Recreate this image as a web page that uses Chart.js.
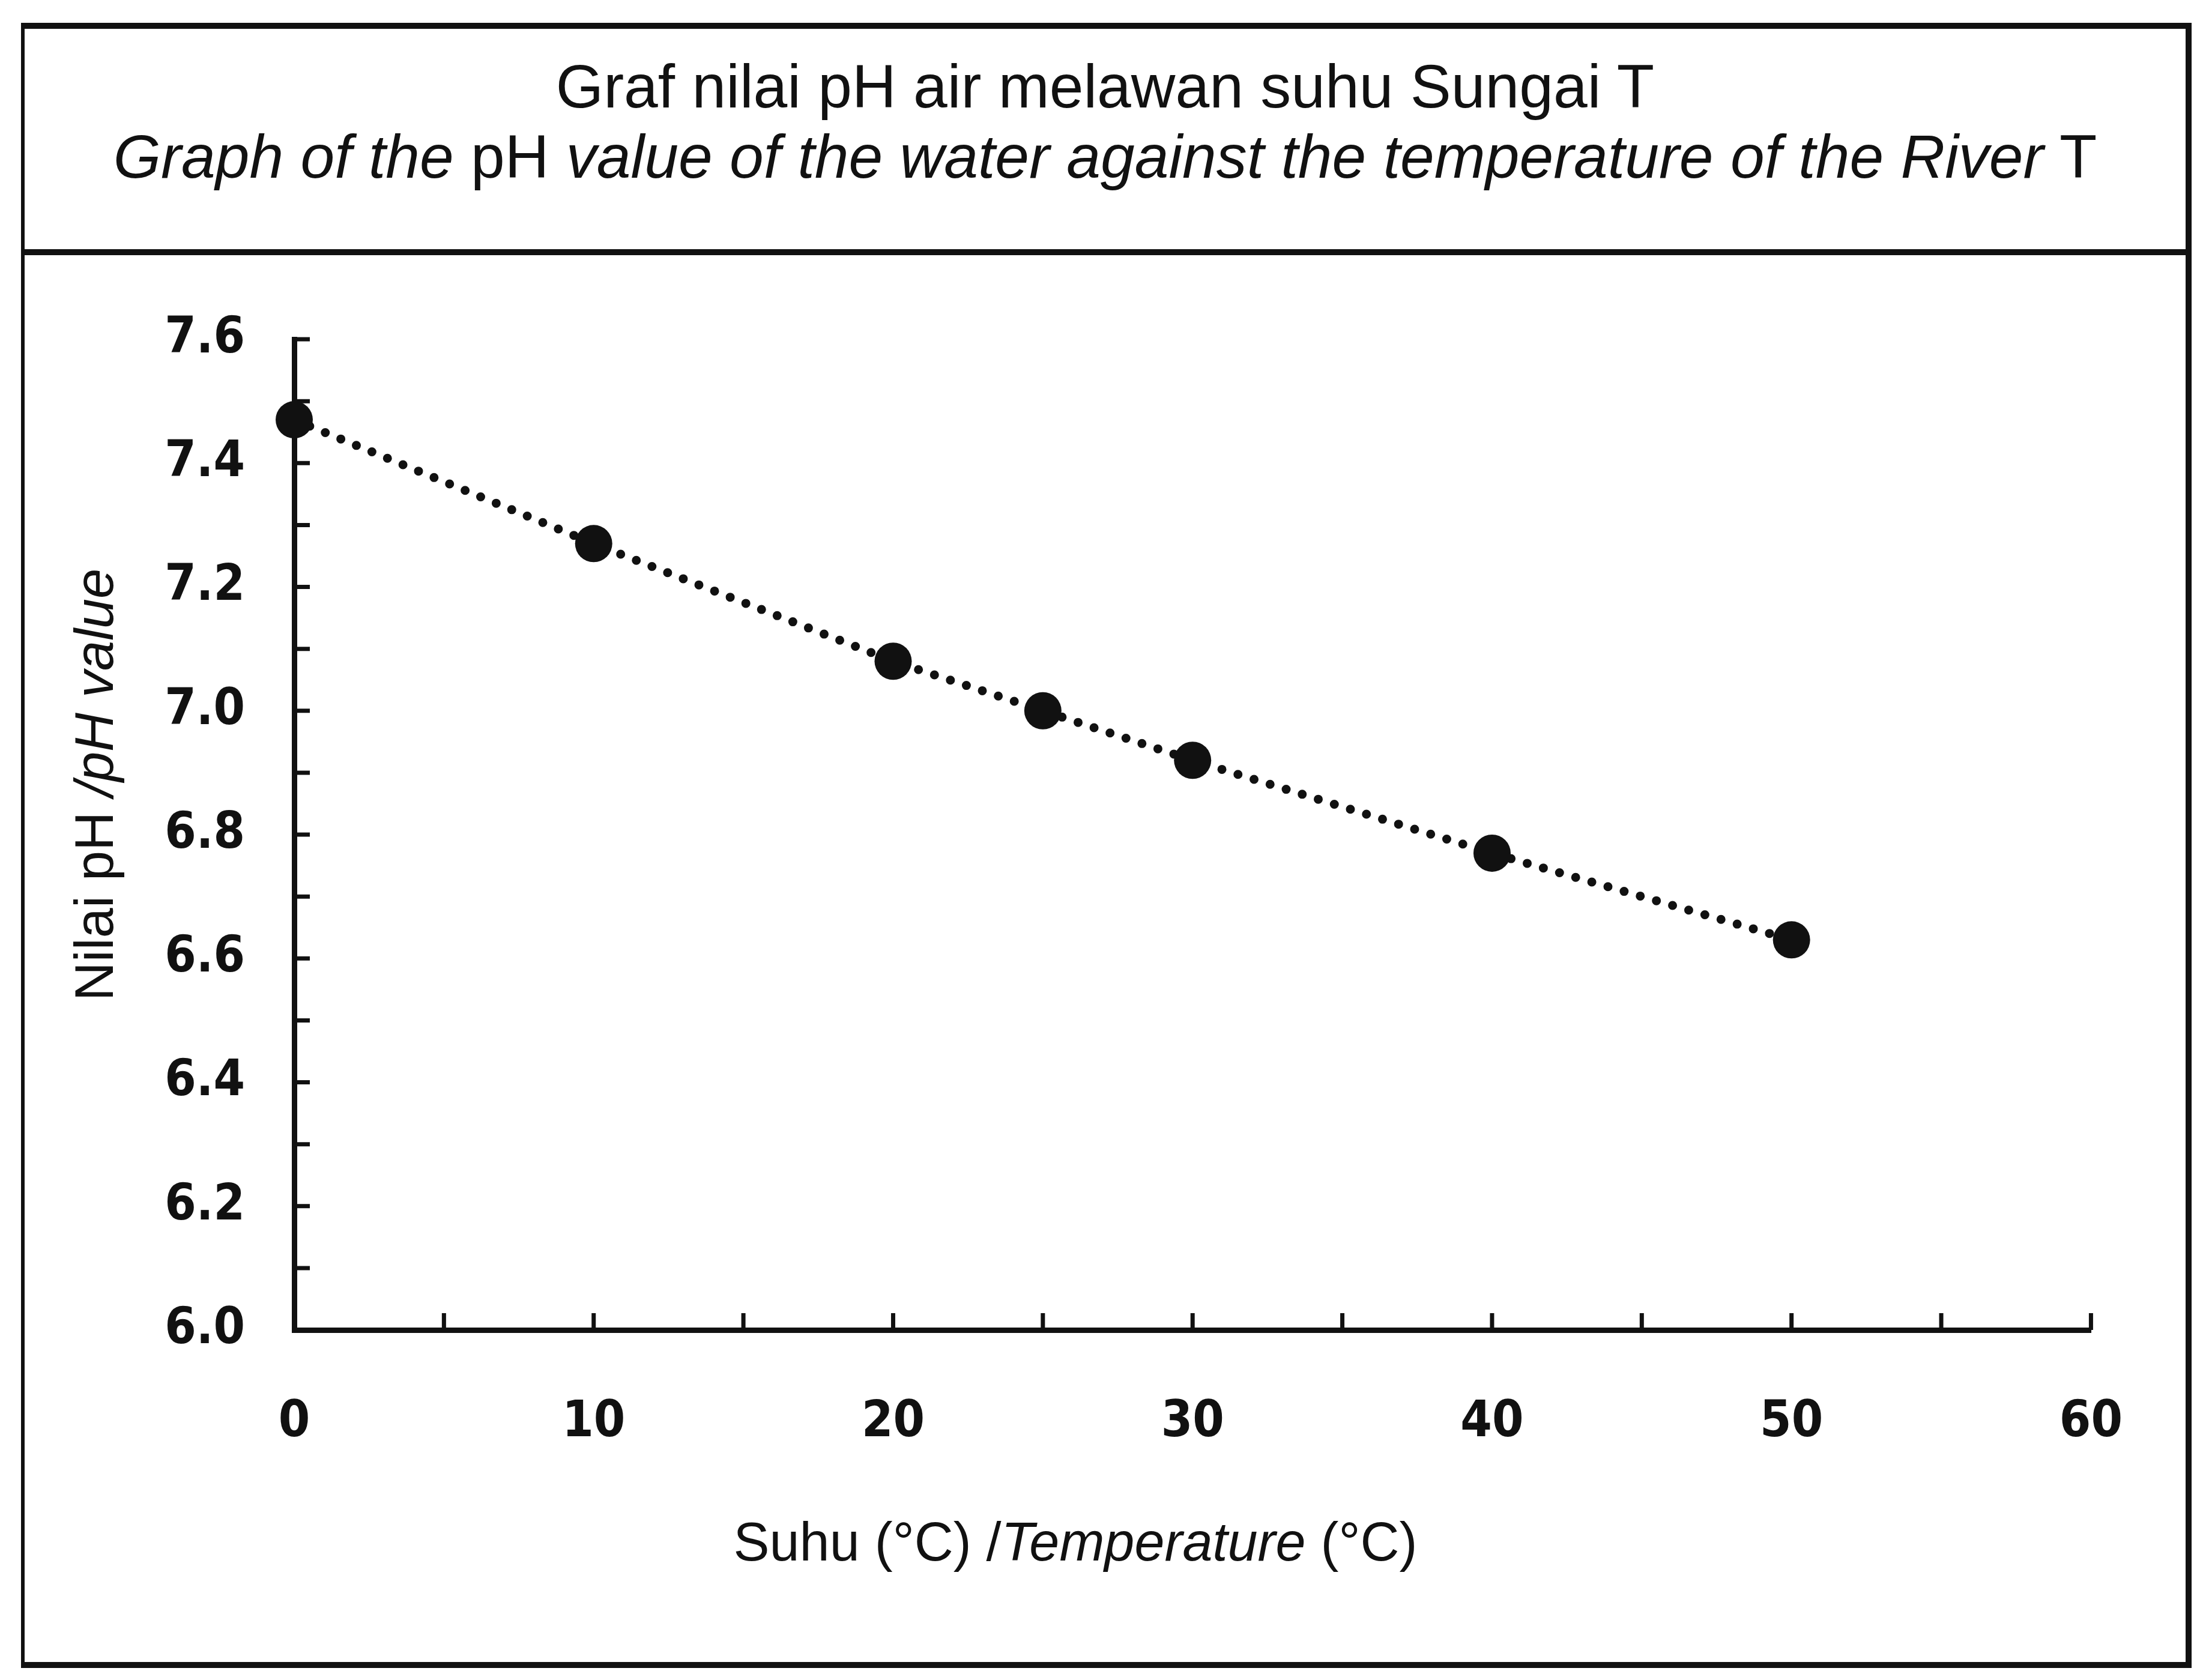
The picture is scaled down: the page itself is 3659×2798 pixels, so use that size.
<!DOCTYPE html>
<html>
<head>
<meta charset="utf-8">
<script src="https://cdn.jsdelivr.net/npm/chart.js@4.4.0/dist/chart.umd.min.js"></script>
<style>
html, body { margin: 0; padding: 0; background: #fff; }
body { width: 3659px; height: 2798px; position: relative; overflow: hidden; }
#box { position: absolute; left: 35px; top: 38px; width: 3615px; height: 2740px;
       border: 10px solid #111; border-left-width: 6px; box-sizing: border-box; }
#head { position: absolute; left: 0; top: 0; right: 0; height: 377px;
        border-bottom: 10px solid #111; box-sizing: border-box; }
.tl { position: absolute; left: 0; right: 0; text-align: center; color: #111;
      font-family: "Liberation Sans", Arial, sans-serif; font-size: 102px; line-height: 112px; white-space: nowrap; }
#t1 { top: 40px; }
#t2 { top: 157px; }
#chart { position: absolute; left: 40px; top: 430px; }
</style>
</head>
<body>
<div id="box">
  <div id="head">
    <div class="tl" id="t1">Graf nilai pH air melawan suhu Sungai T</div>
    <div class="tl" id="t2"><i>Graph of the </i>pH<i> value of the water against the temperature of the River</i> T</div>
  </div>
</div>
<canvas id="chart" width="3600" height="2320"></canvas>
<script>
// temperature (°C) and pH readings
const temps = [0, 10, 20, 25, 30, 40, 50];
const phValues = [7.47, 7.27, 7.08, 7.00, 6.92, 6.77, 6.63];

// labelled ticks (minor ticks in between are unlabelled)
const xTickLabels = [0, 10, 20, 30, 40, 50, 60];
const yTickLabels = ['6.0', '6.2', '6.4', '6.6', '6.8', '7.0', '7.2', '7.4', '7.6'];

const xTitleRuns = [["Suhu (°C) /", false], ["Temperature", true], [" (°C)", false]];
const yTitleRuns = [["Nilai pH ", false], ["/pH value", true]];

const ink = '#111';
const tickFont = { family: "'Liberation Sans Narrow', 'DejaVu Sans Condensed', sans-serif", size: 84, weight: 'bold' };

function fontFor(italic) {
    return (italic ? 'italic ' : '') + "90px 'Liberation Sans', Arial, sans-serif";
}

function drawRuns(ctx, runs, cx, cy) {
    let total = 0;
    runs.forEach(r => { ctx.font = fontFor(r[1]); total += ctx.measureText(r[0]).width; });
    let x = cx - total / 2;
    ctx.textBaseline = 'middle';
    ctx.textAlign = 'left';
    runs.forEach(r => {
        ctx.font = fontFor(r[1]);
        ctx.fillText(r[0], x, cy);
        x += ctx.measureText(r[0]).width;
    });
}

const decor = {
    id: 'decor',
    afterDraw(chart) {
        const ctx = chart.ctx;
        const a = chart.chartArea;
        const xs = chart.scales.x, ys = chart.scales.y;
        ctx.save();
        ctx.strokeStyle = ink;
        ctx.lineWidth = 7;
        ctx.beginPath();
        xs.ticks.forEach(t => {
            const px = xs.getPixelForValue(t.value);
            ctx.moveTo(px, a.bottom);
            ctx.lineTo(px, a.bottom - 28);
        });
        ys.ticks.forEach(t => {
            const py = ys.getPixelForValue(t.value);
            ctx.moveTo(a.left, py);
            ctx.lineTo(a.left + 26, py);
        });
        ctx.stroke();

        ctx.fillStyle = ink;
        drawRuns(ctx, xTitleRuns, a.left + 1301, a.bottom + 359);
        ctx.translate(a.left - 327, a.top + 742);
        ctx.rotate(-Math.PI / 2);
        drawRuns(ctx, yTitleRuns, 0, 0);
        ctx.restore();
    }
};

new Chart(document.getElementById('chart'), {
    type: 'line',
    data: {
        datasets: [{
            data: temps.map((t, i) => ({ x: t, y: phValues[i] })),
            borderColor: ink,
            borderWidth: 15,
            borderDash: [0, 28],
            borderCapStyle: 'round',
            pointRadius: 31,
            pointBackgroundColor: ink,
            pointBorderWidth: 0,
            tension: 0,
            clip: false
        }]
    },
    options: {
        responsive: false,
        animation: false,
        devicePixelRatio: 1,
        layout: { padding: { left: 0, top: 135, right: 156, bottom: 0 } },
        plugins: { legend: { display: false }, tooltip: { enabled: false }, title: { display: false } },
        scales: {
            x: {
                type: 'linear',
                min: 0, max: 60,
                grid: { drawOnChartArea: false, drawTicks: false },
                border: { display: true, color: ink, width: 9 },
                ticks: {
                    stepSize: 5,
                    autoSkip: false,
                    maxRotation: 0,
                    padding: 105,
                    color: ink,
                    font: tickFont,
                    callback: v => xTickLabels.includes(v) ? String(v) : ''
                },
                afterFit: s => { s.height = 535; }
            },
            y: {
                min: 6.0, max: 7.6,
                grid: { drawOnChartArea: false, drawTicks: false },
                border: { display: true, color: ink, width: 9 },
                ticks: {
                    stepSize: 0.1,
                    autoSkip: false,
                    padding: 82,
                    color: ink,
                    font: tickFont,
                    callback: v => {
                        const s = Number(v).toFixed(1);
                        return yTickLabels.includes(s) ? s : '';
                    }
                },
                afterFit: s => { s.width = 450; }
            }
        }
    },
    plugins: [decor]
});
</script>
</body>
</html>
